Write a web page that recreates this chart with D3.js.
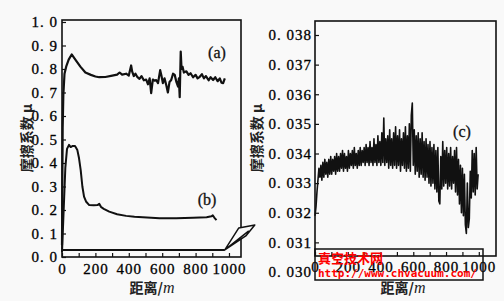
<!DOCTYPE html>
<html lang="zh">
<head>
  <meta charset="UTF-8" />
  <title>摩擦系数 - 距离</title>
  <script src="https://d3js.org/d3.v7.min.js"></script>
  <style>
    html, body {
      margin: 0;
      padding: 0;
      background: #f9f9f9;
    }
    svg { display: block; }
    .tick text {
      font-family: "Liberation Serif", serif;
      font-size: 15px;
      letter-spacing: 1px;
      fill: #000;
      stroke: #000;
      stroke-width: 0.3;
    }
    .tick line { stroke: #111; stroke-width: 1.2; }
  </style>
</head>
<body>
<svg id="chart" width="504" height="301"></svg>
<script>
  // curve (a): distance (m), friction coefficient
  const aDist = [0, 4, 8, 15, 25, 40, 58, 80, 110, 140, 173, 200, 223, 260, 301, 330, 345, 360, 384, 400,
    414, 420, 430, 440, 452, 464, 476, 490, 504, 515, 525, 534, 544, 556, 564, 575, 588, 596, 604, 614,
    625, 634, 644, 654, 665, 675, 685, 695, 700, 705, 711, 716, 722, 730, 745, 758, 770, 785, 800, 812,
    825, 838, 850, 862, 878, 890, 905, 918, 932, 945, 955, 965, 975];
  const aMu = [0.05, 0.55, 0.69, 0.78, 0.81, 0.84, 0.862, 0.84, 0.81, 0.785, 0.775, 0.768, 0.765, 0.766, 0.772, 0.776, 0.785, 0.776, 0.78, 0.772,
    0.815, 0.79, 0.77, 0.78, 0.765, 0.758, 0.77, 0.752, 0.755, 0.735, 0.76, 0.697, 0.755, 0.75, 0.753, 0.74, 0.795, 0.77, 0.74, 0.76,
    0.73, 0.70, 0.745, 0.753, 0.78, 0.775, 0.745, 0.725, 0.76, 0.68, 0.874, 0.80, 0.81, 0.785, 0.79, 0.775, 0.782, 0.765, 0.775, 0.76,
    0.767, 0.778, 0.76, 0.77, 0.752, 0.765, 0.753, 0.765, 0.748, 0.76, 0.742, 0.74, 0.76];

  // curve (b)
  const bDist = [0, 10, 20, 30, 42, 52, 62, 78, 92, 102, 112, 122, 132, 145, 163, 190, 213, 223, 235, 250,
    283, 330, 384, 434, 484, 584, 684, 785, 866, 895, 903, 912, 925];
  const bMu = [0.02, 0.2, 0.38, 0.46, 0.477, 0.468, 0.472, 0.472, 0.455, 0.42, 0.37, 0.3, 0.257, 0.235, 0.221, 0.22, 0.221, 0.226, 0.212, 0.205,
    0.193, 0.182, 0.175, 0.171, 0.169, 0.165, 0.165, 0.167, 0.169, 0.173, 0.177, 0.168, 0.157];

  // curve (c) as seen on the left scale
  const cFlatDist = [0, 975];
  const cFlatMu = [0.03, 0.03];

  // curve (c) enlarged (right panel)
  const cDist = [0, 6, 12, 18, 24, 30, 36, 42, 48, 54, 60, 66, 72, 78, 84, 90, 96, 102, 108, 114,
    120, 126, 132, 138, 144, 150, 156, 162, 168, 174, 180, 186, 192, 198, 204, 210, 216, 222, 228, 234,
    240, 246, 252, 258, 264, 270, 276, 282, 288, 294, 300, 306, 312, 318, 324, 330, 336, 342, 348, 354,
    360, 366, 372, 378, 384, 390, 396, 402, 408, 414, 420, 426, 432, 438, 444, 450, 456, 462, 468, 474,
    480, 486, 492, 498, 504, 510, 516, 522, 528, 534, 540, 546, 552, 558, 564, 570, 576, 582, 588, 594,
    600, 606, 612, 618, 624, 630, 636, 642, 648, 654, 660, 666, 672, 678, 684, 690, 696, 702, 708, 714,
    720, 726, 732, 738, 744, 750, 756, 762, 768, 774, 780, 786, 792, 798, 804, 810, 816, 822, 828, 834,
    840, 846, 852, 858, 864, 870, 876, 882, 888, 894, 900, 906, 912, 918, 924, 930, 936, 942, 948, 954,
    960, 966, 972, 978, 984, 990, 996];
  const cMu = [0.0319, 0.0322, 0.0327, 0.0331, 0.0335, 0.0332, 0.0336, 0.0331, 0.0337, 0.0332, 0.0338, 0.0333, 0.0337, 0.0332, 0.0338, 0.0333, 0.0339, 0.0333, 0.0338, 0.0334,
    0.0339, 0.0333, 0.0340, 0.0334, 0.0339, 0.0334, 0.0340, 0.0335, 0.0341, 0.0334, 0.0340, 0.0335, 0.0339, 0.0334, 0.0341, 0.0335, 0.0340, 0.0336, 0.0341, 0.0335,
    0.0342, 0.0336, 0.0340, 0.0335, 0.0341, 0.0336, 0.0342, 0.0336, 0.0341, 0.0337, 0.0342, 0.0336, 0.0343, 0.0337, 0.0342, 0.0336, 0.0344, 0.0337, 0.0342, 0.0336,
    0.0345, 0.0337, 0.0343, 0.0336, 0.0346, 0.0337, 0.0344, 0.0336, 0.0347, 0.0337, 0.0352, 0.0336, 0.0345, 0.0337, 0.0346, 0.0335, 0.0348, 0.0336, 0.0345, 0.0335,
    0.0347, 0.0336, 0.0349, 0.0335, 0.0346, 0.0336, 0.0348, 0.0334, 0.0345, 0.0336, 0.0347, 0.0335, 0.0349, 0.0334, 0.0346, 0.0335, 0.0350, 0.0334, 0.0353, 0.0357,
    0.0336, 0.0348, 0.0333, 0.0346, 0.0334, 0.0347, 0.0332, 0.0345, 0.0333, 0.0347, 0.0332, 0.0344, 0.0331, 0.0345, 0.0332, 0.0343, 0.0330, 0.0344, 0.0329, 0.0342,
    0.0330, 0.0343, 0.0328, 0.0341, 0.0327, 0.0342, 0.0324, 0.0323, 0.0339, 0.0328, 0.0344, 0.0329, 0.0341, 0.0330, 0.0342, 0.0328, 0.0340, 0.0329, 0.0342, 0.0328,
    0.0339, 0.0330, 0.0341, 0.0327, 0.0342, 0.0326, 0.0338, 0.0323, 0.0336, 0.0320, 0.0335, 0.0319, 0.0333, 0.0316, 0.0313, 0.0330, 0.0315, 0.0318, 0.0334, 0.0325,
    0.0341, 0.0327, 0.0340, 0.0326, 0.0342, 0.0328, 0.0333];

  const leftYTicks = [0, 0.1, 0.2, 0.3, 0.4, 0.5, 0.6, 0.7, 0.8, 0.9, 1.0];
  const rightYTicks = [0.030, 0.031, 0.032, 0.033, 0.034, 0.035, 0.036, 0.037, 0.038];
  const xTicks = [0, 100, 200, 300, 400, 500, 600, 700, 800, 900, 1000];
  const xLabelTicks = [0, 200, 400, 600, 800, 1000];

  const yTitle = "摩擦系数 μ";
  const xTitle = "距离/";
  const xUnit = "m";

  const svg = d3.select("#chart");

  // left panel
  const L = {left: 62, right: 241, top: 20, bottom: 257};
  const xL = d3.scaleLinear().domain([0, 1072]).range([L.left, L.right]);
  const yL = d3.scaleLinear().domain([0, 1.0085]).range([L.bottom, L.top]);

  // right panel
  const R = {left: 315, right: 496, top: 21, bottom: 256};
  const xR = d3.scaleLinear().domain([0, 1105]).range([R.left, R.right]);
  const yR = d3.scaleLinear().domain([0.030, 0.038]).range([272, 35]);

  const fmtY1 = d => d3.format(".1f")(d).replace(".", ". ");
  const fmtY3 = d => d3.format(".3f")(d).replace(".", ". ");
  const fmtX = d => xLabelTicks.includes(d) ? d : "";

  function frame(p) {
    svg.append("rect")
      .attr("x", p.left).attr("y", p.top)
      .attr("width", p.right - p.left).attr("height", p.bottom - p.top)
      .attr("fill", "none").attr("stroke", "#111").attr("stroke-width", 1.6);
  }

  function axes(x, y, p, yTicks, fmt, padY, padX) {
    const gy = svg.append("g")
      .attr("transform", `translate(${p.left},0)`)
      .call(d3.axisLeft(y).tickValues(yTicks).tickFormat(fmt).tickSize(-4).tickPadding(padY));
    gy.select(".domain").remove();
    gy.selectAll(".tick line").attr("display", d => (y(d) > p.bottom + 1 || y(d) < p.top - 1) ? "none" : null);

    const gx = svg.append("g")
      .attr("transform", `translate(0,${p.bottom})`)
      .call(d3.axisBottom(x).tickValues(xTicks).tickFormat(fmtX).tickSize(-4).tickPadding(padX));
    gx.select(".domain").remove();
  }

  function title(cx, cy, rotate) {
    const t = svg.append("text")
      .attr("transform", rotate ? `translate(${cx},${cy}) rotate(-90)` : `translate(${cx},${cy})`)
      .attr("text-anchor", "middle")
      .attr("font-family", "'Noto Sans CJK SC', sans-serif")
      .attr("font-weight", 700)
      .attr("font-size", 14)
      .attr("fill", "#222");
    if (rotate) {
      t.text(yTitle);
    } else {
      t.append("tspan").text(xTitle);
      t.append("tspan").attr("font-family", "'Liberation Serif', serif").attr("font-style", "italic")
        .attr("font-size", 16).attr("font-weight", 400).text(xUnit);
    }
  }

  function curve(x, y, dist, mu, w) {
    const line = d3.line().x((d, i) => x(dist[i])).y(d => y(d));
    svg.append("path")
      .datum(mu)
      .attr("d", line)
      .attr("fill", "none")
      .attr("stroke", "#111")
      .attr("stroke-width", w)
      .attr("stroke-linejoin", "round");
  }

  function panelLabel(x, y, s) {
    svg.append("text")
      .attr("x", x).attr("y", y)
      .attr("text-anchor", "middle")
      .attr("font-family", "'Liberation Serif', serif")
      .attr("font-size", 16)
      .attr("fill", "#111")
      .attr("stroke", "#111")
      .attr("stroke-width", 0.3)
      .text(s);
  }

  frame(L);
  axes(xL, yL, L, leftYTicks, fmtY1, 4, 6);
  curve(xL, yL, aDist, aMu, 2.2);
  curve(xL, yL, bDist, bMu, 2);
  curve(xL, yL, cFlatDist, cFlatMu, 2);
  panelLabel(217, 58, "(a)");
  panelLabel(207, 205, "(b)");
  title(32, 138, true);
  title(152, 293, false);

  frame(R);
  axes(xR, yR, R, rightYTicks, fmtY3, 3, 5);
  curve(xR, yR, cDist, cMu, 1.6);
  panelLabel(462, 137, "(c)");
  title(262, 138, true);
  title(403, 293, false);

  // zoom arrow from the flat curve in (a)/(b) to the enlarged panel (c)
  const ax = xL(975), ay = yL(0.03);
  svg.append("path")
    .attr("d", `M${ax},${ay} L${ax + 14},${ay - 22} L${ax + 30},${ay - 25} L${ax + 21},${ay - 14} Z M${ax},${ay} L${ax + 24},${ay - 19}`)
    .attr("fill", "#f9f9f9")
    .attr("stroke", "#111")
    .attr("stroke-width", 1.5)
    .attr("stroke-linejoin", "round");

  // site stamp
  svg.append("rect")
    .attr("x", 315).attr("y", 249).attr("width", 168).attr("height", 31)
    .attr("fill", "none").attr("stroke", "#111").attr("stroke-width", 1.5);
  svg.append("text")
    .attr("x", 318).attr("y", 263)
    .attr("font-family", "'Noto Sans CJK SC', sans-serif")
    .attr("font-weight", 700).attr("font-size", 13).attr("fill", "#ff0000")
    .text("真空技术网");
  svg.append("text")
    .attr("x", 318).attr("y", 277)
    .attr("font-family", "'DejaVu Sans Mono', monospace")
    .attr("font-weight", 700).attr("font-size", 11).attr("fill", "#ff0000")
    .text("http://www.chvacuum.com/");
</script>
</body>
</html>
